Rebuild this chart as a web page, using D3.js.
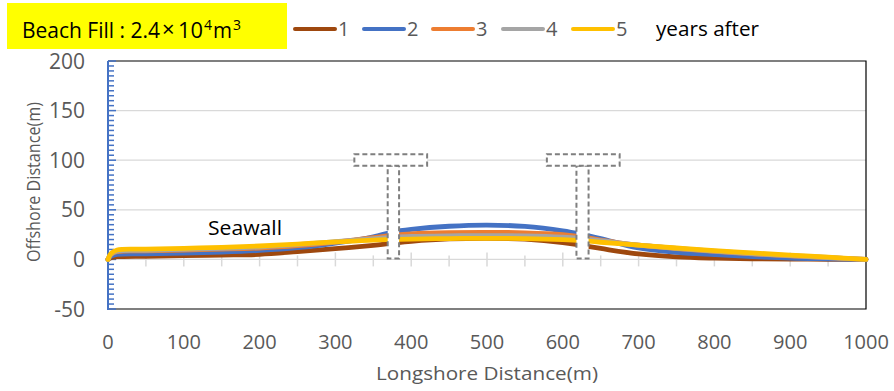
<!DOCTYPE html>
<html>
<head>
<meta charset="utf-8">
<script src="https://cdn.jsdelivr.net/npm/d3@7"></script>
<style>
  html, body { margin: 0; padding: 0; background: #fff; }
  svg { display: block; font-family: "Open Sans", "Liberation Sans", sans-serif; }
</style>
</head>
<body>
<svg id="chart" width="894" height="391"></svg>
<script>
// ---------------- data ----------------
const seriesNames = ["1", "2", "3", "4", "5"];
const seriesColors = ["#9E480E", "#4472C4", "#ED7D31", "#A5A5A5", "#FFC000"];
const xPositions = [0, 4, 12, 50, 100, 150, 200, 250, 300, 350, 375, 400, 450, 500, 550, 600, 625, 650, 700, 750, 800, 850, 900, 950, 1000];
const year1 = [0, 1.8, 2.7, 3.2, 3.8, 4.4, 5.1, 7.8, 10.8, 14.2, 16.3, 18.2, 20.6, 21.3, 20.4, 17, 14, 11, 5.5, 2.6, 1.3, 0.6, 0.3, 0.1, 0];
const year2 = [0, 3.2, 5, 5.6, 6.4, 7.4, 9.0, 11.8, 16.5, 22.8, 27.5, 30.2, 33.4, 34.6, 33.2, 28.8, 25.3, 21, 11.5, 7.2, 4.8, 2.8, 1.3, 0.6, 0];
const year3 = [0, 5, 7.8, 8.6, 9.4, 10.3, 11.5, 13.8, 17.5, 22, 24.2, 25.8, 27, 27.3, 26.8, 25, 22.8, 19.5, 14.3, 11, 8, 5.5, 3.5, 1.7, 0];
const year4 = [0, 5.3, 8.2, 9.2, 10.2, 11.2, 12.5, 14.8, 17.8, 21, 22.3, 23.2, 23.8, 24, 23.8, 22.5, 21, 18.8, 14.4, 11.2, 8.3, 5.8, 3.8, 1.9, 0];
const year5 = [0, 6, 9.5, 10.3, 11.2, 12.2, 13.5, 15.5, 17.6, 19.5, 20, 20.5, 21, 21.2, 21, 20, 19, 17.3, 14.4, 11.5, 8.8, 6.5, 4.3, 2.3, 0];
const seriesValues = [year1, year2, year3, year4, year5];

const xTicks = [0, 100, 200, 300, 400, 500, 600, 700, 800, 900, 1000];
const yTicks = [-50, 0, 50, 100, 150, 200];

// groin (T-shaped structure) outlines, in data units
const headX0 = [325, 579];
const headX1 = [421, 675];
const stemX0 = [369, 618];
const stemX1 = [384, 634];
const headBottom = 94.5;
const headTop = 106;
const stemBottom = 0.8;

const titleText = "Beach Fill : 2.4";
const legendSuffix = "years after";
const xTitle = "Longshore Distance(m)";
const yTitle = "Offshore Distance(m)";
const annotation = "Seawall";

// ---------------- drawing ----------------
(function () {
const svg = d3.select("#chart");
const pL = 108, pR = 866, pT = 61, pB = 309;
const x = d3.scaleLinear().domain([0, 1000]).range([pL, pR]);
const y = d3.scaleLinear().domain([-50, 200]).range([pB, pT]);

// gridlines
svg.append("g").selectAll("line").data(yTicks.filter(v => v > -50 && v < 200)).join("line")
  .attr("x1", pL).attr("x2", pR)
  .attr("y1", d => y(d)).attr("y2", d => y(d))
  .attr("stroke", "#d9d9d9").attr("stroke-width", 1.3);

// x ticks on the zero line
const xMinor = d3.range(0, 1001, 50);
svg.append("g").selectAll("line").data(xMinor.filter(v => v > 0 && v < 1000)).join("line")
  .attr("x1", d => x(d)).attr("x2", d => x(d))
  .attr("y1", d => y(0) + (d % 100 === 0 ? -7 : -4))
  .attr("y2", d => y(0) + 7)
  .attr("stroke", "#d9d9d9").attr("stroke-width", 1.5);

// plot border
svg.append("path")
  .attr("d", `M${pL},${pT}H${pR}V${pB}H${pL}`)
  .attr("fill", "none").attr("stroke", "#000").attr("stroke-width", 1.2);

// y axis (blue, ticks inward)
const yAxisG = svg.append("g");
yAxisG.append("line").attr("x1", pL).attr("x2", pL).attr("y1", pT).attr("y2", pB + 1)
  .attr("stroke", "#4472C4").attr("stroke-width", 2);
const yMinor = d3.range(-50, 201, 5);
yAxisG.selectAll("line.t").data(yMinor).join("line").attr("class", "t")
  .attr("x1", pL).attr("x2", d => pL + (d % 50 === 0 ? 8 : 6))
  .attr("y1", d => y(d)).attr("y2", d => y(d))
  .attr("stroke", "#4472C4").attr("stroke-width", 1.5);

// y tick labels
svg.append("g").selectAll("text").data(yTicks).join("text")
  .attr("x", 85).attr("y", d => y(d)).attr("dy", "0.36em")
  .attr("text-anchor", "end").attr("fill", "#595959")
  .attr("font-size", 21).text(d => d);

// x tick labels
svg.append("g").selectAll("text").data(xTicks).join("text")
  .attr("x", d => x(d)).attr("y", 349)
  .attr("text-anchor", "middle").attr("fill", "#595959")
  .attr("font-size", 20).text(d => d);

// axis titles
svg.append("text").attr("x", (pL + pR) / 2).attr("y", 380)
  .attr("text-anchor", "middle").attr("fill", "#595959").attr("font-size", 19)
  .attr("textLength", 222).attr("lengthAdjust", "spacingAndGlyphs").text(xTitle);
svg.append("text").attr("transform", `translate(40,182) rotate(-90)`)
  .attr("text-anchor", "middle").attr("fill", "#595959").attr("font-size", 18.5)
  .attr("textLength", 160).attr("lengthAdjust", "spacingAndGlyphs").text(yTitle);

// series
const line = d3.line().x(d => x(d[0])).y(d => y(d[1])).curve(d3.curveCatmullRom.alpha(0.5));
svg.append("g").selectAll("path").data(seriesValues).join("path")
  .attr("d", vals => line(xPositions.map((xv, i) => [xv, vals[i]])))
  .attr("fill", "none").attr("stroke", (d, i) => seriesColors[i])
  .attr("stroke-width", 4.8).attr("stroke-linejoin", "round").attr("stroke-linecap", "round");

// groins
const groins = svg.append("g");
headX0.forEach((h0, i) => {
  groins.append("rect")
    .attr("x", x(stemX0[i])).attr("y", y(headBottom))
    .attr("width", x(stemX1[i]) - x(stemX0[i])).attr("height", y(stemBottom) - y(headBottom))
    .attr("fill", "#fff").attr("stroke", "#7f7f7f").attr("stroke-width", 2)
    .attr("stroke-dasharray", "5,3");
  groins.append("rect")
    .attr("x", x(h0)).attr("y", y(headTop))
    .attr("width", x(headX1[i]) - x(h0)).attr("height", y(headBottom) - y(headTop))
    .attr("fill", "#fff").attr("stroke", "#7f7f7f").attr("stroke-width", 2)
    .attr("stroke-dasharray", "5,3");
});

// annotation
svg.append("text").attr("x", 208).attr("y", 235).attr("fill", "#000")
  .attr("font-size", 20).attr("textLength", 74).attr("lengthAdjust", "spacingAndGlyphs").text(annotation);

// title box
svg.append("rect").attr("x", 7).attr("y", 3).attr("width", 280).attr("height", 46).attr("fill", "#FFFF00");
const t = svg.append("text").attr("y", 38).attr("fill", "#000").attr("font-size", 21);
t.append("tspan").attr("x", 22).attr("textLength", 138).attr("lengthAdjust", "spacingAndGlyphs").text(titleText);
t.append("tspan").attr("x", 162).attr("font-size", 22).attr("dy", -1).text("\u00D7");
t.append("tspan").attr("x", 178).attr("dy", 1).attr("textLength", 25).attr("lengthAdjust", "spacingAndGlyphs").text("10");
t.append("tspan").attr("x", 204).attr("font-size", 14).attr("dy", -8).text("4");
t.append("tspan").attr("x", 213).attr("dy", 8).attr("textLength", 19).attr("lengthAdjust", "spacingAndGlyphs").text("m");
t.append("tspan").attr("x", 233).attr("font-size", 14).attr("dy", -8).text("3");

// legend
const legendX = [295, 364, 433, 503, 573];
const lg = svg.append("g");
seriesNames.forEach((name, i) => {
  lg.append("line").attr("x1", legendX[i]).attr("x2", legendX[i] + 40)
    .attr("y1", 29).attr("y2", 29)
    .attr("stroke", seriesColors[i]).attr("stroke-width", 4).attr("stroke-linecap", "round");
  lg.append("text").attr("x", legendX[i] + 43).attr("y", 36)
    .attr("fill", "#595959").attr("font-size", 20).text(name);
});
lg.append("text").attr("x", 656).attr("y", 36).attr("fill", "#000").attr("font-size", 20)
  .attr("textLength", 103).attr("lengthAdjust", "spacingAndGlyphs").text(legendSuffix);
})();
</script>
</body>
</html>
